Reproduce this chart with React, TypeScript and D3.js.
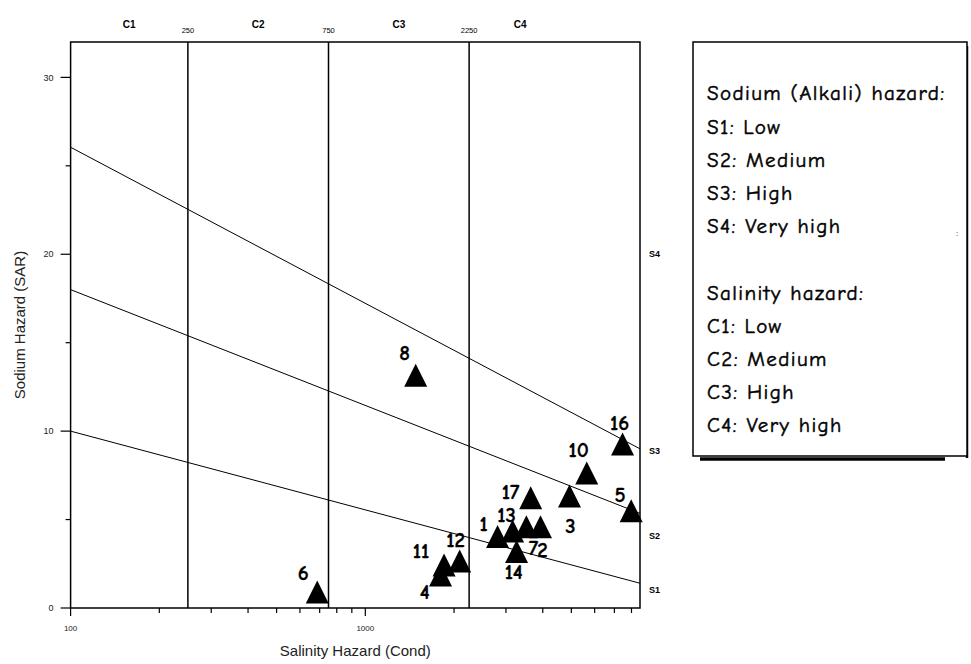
import React from 'react'
import * as d3 from 'd3'

// Sample points: EC (salinity, µS/cm) vs SAR
const sampleIds = ['1', '2', '3', '4', '5', '6', '7', '8', '10', '11', '12', '13', '14', '16', '17']
const sampleEC = [2810, 3930, 4930, 1800, 7980, 687, 3520, 1482, 5640, 1850, 2090, 3160, 3260, 7460, 3640]
const sampleSAR = [4.04, 4.6, 6.33, 1.86, 5.5, 0.9, 4.6, 13.16, 7.63, 2.43, 2.66, 4.35, 3.19, 9.27, 6.24]

// Label offsets (px) from the triangle centre
const labelOffsets: Record<string, [number, number]> = {
  '1': [-14, -13], '2': [2, 23], '3': [1, 30], '4': [-16, 17], '5': [-11, -16],
  '6': [-14, -19], '7': [7, 21], '8': [-11, -23], '10': [-8, -23], '11': [-23, -14],
  '12': [-4, -21], '13': [-6, -16], '14': [-3, 20], '16': [-3, -21], '17': [-20, -6],
}

// Sodium hazard boundaries (EC, SAR) end points
const s1s2 = [{ ec: 100, sar: 10 }, { ec: 8550, sar: 1.4 }]
const s2s3 = [{ ec: 100, sar: 18 }, { ec: 8550, sar: 5.35 }]
const s3s4 = [{ ec: 100, sar: 26.05 }, { ec: 8550, sar: 9.0 }]

// Salinity class boundaries and class labels
const salinityBounds = [250, 750, 2250]
const salinityClasses = ['C1', 'C2', 'C3', 'C4']
const salinityClassPos = [158, 433, 1299, 3354]

const sodiumClasses = ['S1', 'S2', 'S3', 'S4']
const sodiumClassPos = [1, 4.1, 8.9, 20]

const yMajor = [0, 10, 20, 30]
const yMinor = [5, 15, 25]

const legendLines = [
  'Sodium (Alkali) hazard:', 'S1: Low', 'S2: Medium', 'S3: High', 'S4: Very high', '',
  'Salinity hazard:', 'C1: Low', 'C2: Medium', 'C3: High', 'C4: Very high',
]

const W = 971
const H = 664
const margin = { left: 70.6, right: 331, top: 42, bottom: 56 }

export default function App() {
  const x = d3.scaleLog().domain([100, 8550]).range([margin.left, W - margin.right])
  const y = d3.scaleLinear().domain([0, 32]).range([H - margin.bottom, margin.top])
  const [x0, x1] = x.range()
  const [yb, yt] = y.range()

  const line = d3.line<{ ec: number; sar: number }>().x(d => x(d.ec)).y(d => y(d.sar))
  const xTicks = x.ticks()
  const isMajor = (v: number) => Math.abs(Math.log10(v) - Math.round(Math.log10(v))) < 1e-6

  const tri = (cx: number, cy: number, s = 11.5) =>
    `M${cx},${cy - s}L${cx + s},${cy + s}L${cx - s},${cy + s}Z`

  const comic = '"Comic Sans MS", "Comic Neue", "Open Sans", sans-serif'
  const arial = '"Liberation Sans", Arial, sans-serif'

  return (
    <svg width={W} height={H} style={{ position: 'absolute', left: 0, top: 0, background: '#fff' }}>
      {/* frame */}
      <rect x={x0} y={yt} width={x1 - x0} height={yb - yt} fill="none" stroke="#000" strokeWidth={1.5} />

      {/* salinity boundaries */}
      {salinityBounds.map(v => (
        <g key={v}>
          <line x1={x(v)} x2={x(v)} y1={yt} y2={yb} stroke="#000" strokeWidth={1.5} />
          <text x={x(v)} y={33} textAnchor="middle" fontSize={7.5} fontFamily={arial} fill="#000">{v}</text>
        </g>
      ))}
      {salinityClasses.map((c, i) => (
        <text key={c} x={x(salinityClassPos[i])} y={28} textAnchor="middle" fontSize={10}
          fontWeight="bold" fontFamily={arial}>{c}</text>
      ))}

      {/* sodium boundaries */}
      {[s1s2, s2s3, s3s4].map((d, i) => (
        <path key={i} d={line(d) || ''} fill="none" stroke="#000" strokeWidth={1} />
      ))}
      {sodiumClasses.map((c, i) => (
        <text key={c} x={x1 + 9} y={y(sodiumClassPos[i])} dy="0.35em" fontSize={9}
          fontWeight="bold" fontFamily={arial}>{c}</text>
      ))}

      {/* y axis ticks */}
      {yMajor.map(v => (
        <g key={v}>
          <line x1={x0 - 10} x2={x0} y1={y(v)} y2={y(v)} stroke="#000" strokeWidth={1.2} />
          <text x={x0 - 17} y={y(v)} dy="0.35em" textAnchor="end" fontSize={9} fontFamily={arial} fill="#222">{v}</text>
        </g>
      ))}
      {yMinor.map(v => (
        <line key={v} x1={x0 - 5} x2={x0} y1={y(v)} y2={y(v)} stroke="#000" strokeWidth={1.2} />
      ))}

      {/* x axis ticks */}
      {xTicks.map(v => (
        <g key={v}>
          <line x1={x(v)} x2={x(v)} y1={yb} y2={yb + (isMajor(v) ? 8 : 5)} stroke="#000" strokeWidth={1.2} />
          {isMajor(v) && (
            <text x={x(v)} y={yb + 23} textAnchor="middle" fontSize={8} fontFamily={arial} fill="#222">{v}</text>
          )}
        </g>
      ))}

      {/* axis titles */}
      <text x={(x0 + x1) / 2} y={656} textAnchor="middle" fontSize={15} fontFamily={arial} fill="#222">
        Salinity Hazard (Cond)
      </text>
      <text transform={`translate(25,${(yt + yb) / 2}) rotate(-90)`} textAnchor="middle" fontSize={15}
        fontFamily={arial} fill="#222">Sodium Hazard (SAR)</text>

      {/* samples */}
      {sampleIds.map((id, i) => (
        <path key={id} d={tri(x(sampleEC[i]), y(sampleSAR[i]))} fill="#000" />
      ))}
      {sampleIds.map((id, i) => {
        const [dx, dy] = labelOffsets[id]
        return (
          <text key={id} x={x(sampleEC[i]) + dx} y={y(sampleSAR[i]) + dy} dy="0.35em" textAnchor="middle"
            fontSize={21} fontWeight="bold" fontFamily={comic} stroke="#000" strokeWidth={0.3}>{id}</text>
        )
      })}

      {/* legend */}
      <line x1={700} x2={945} y1={459} y2={459} stroke="#000" strokeWidth={3.5} />
      <line x1={967} x2={967} y1={46} y2={458} stroke="#000" strokeWidth={2.5} />
      <rect x={693} y={42} width={274} height={414} fill="#fff" stroke="#000" strokeWidth={1.5} />
      {legendLines.map((t, i) => (
        <text key={i} x={707} y={93 + i * 33.2} dy="0.35em" fontSize={21} letterSpacing={1.4}
          fontFamily={comic} stroke="#000" strokeWidth={0.5}>{t}</text>
      ))}
      <text x={956} y={233} dy="0.35em" fontSize={8} fontFamily={arial}>:</text>
    </svg>
  )
}
